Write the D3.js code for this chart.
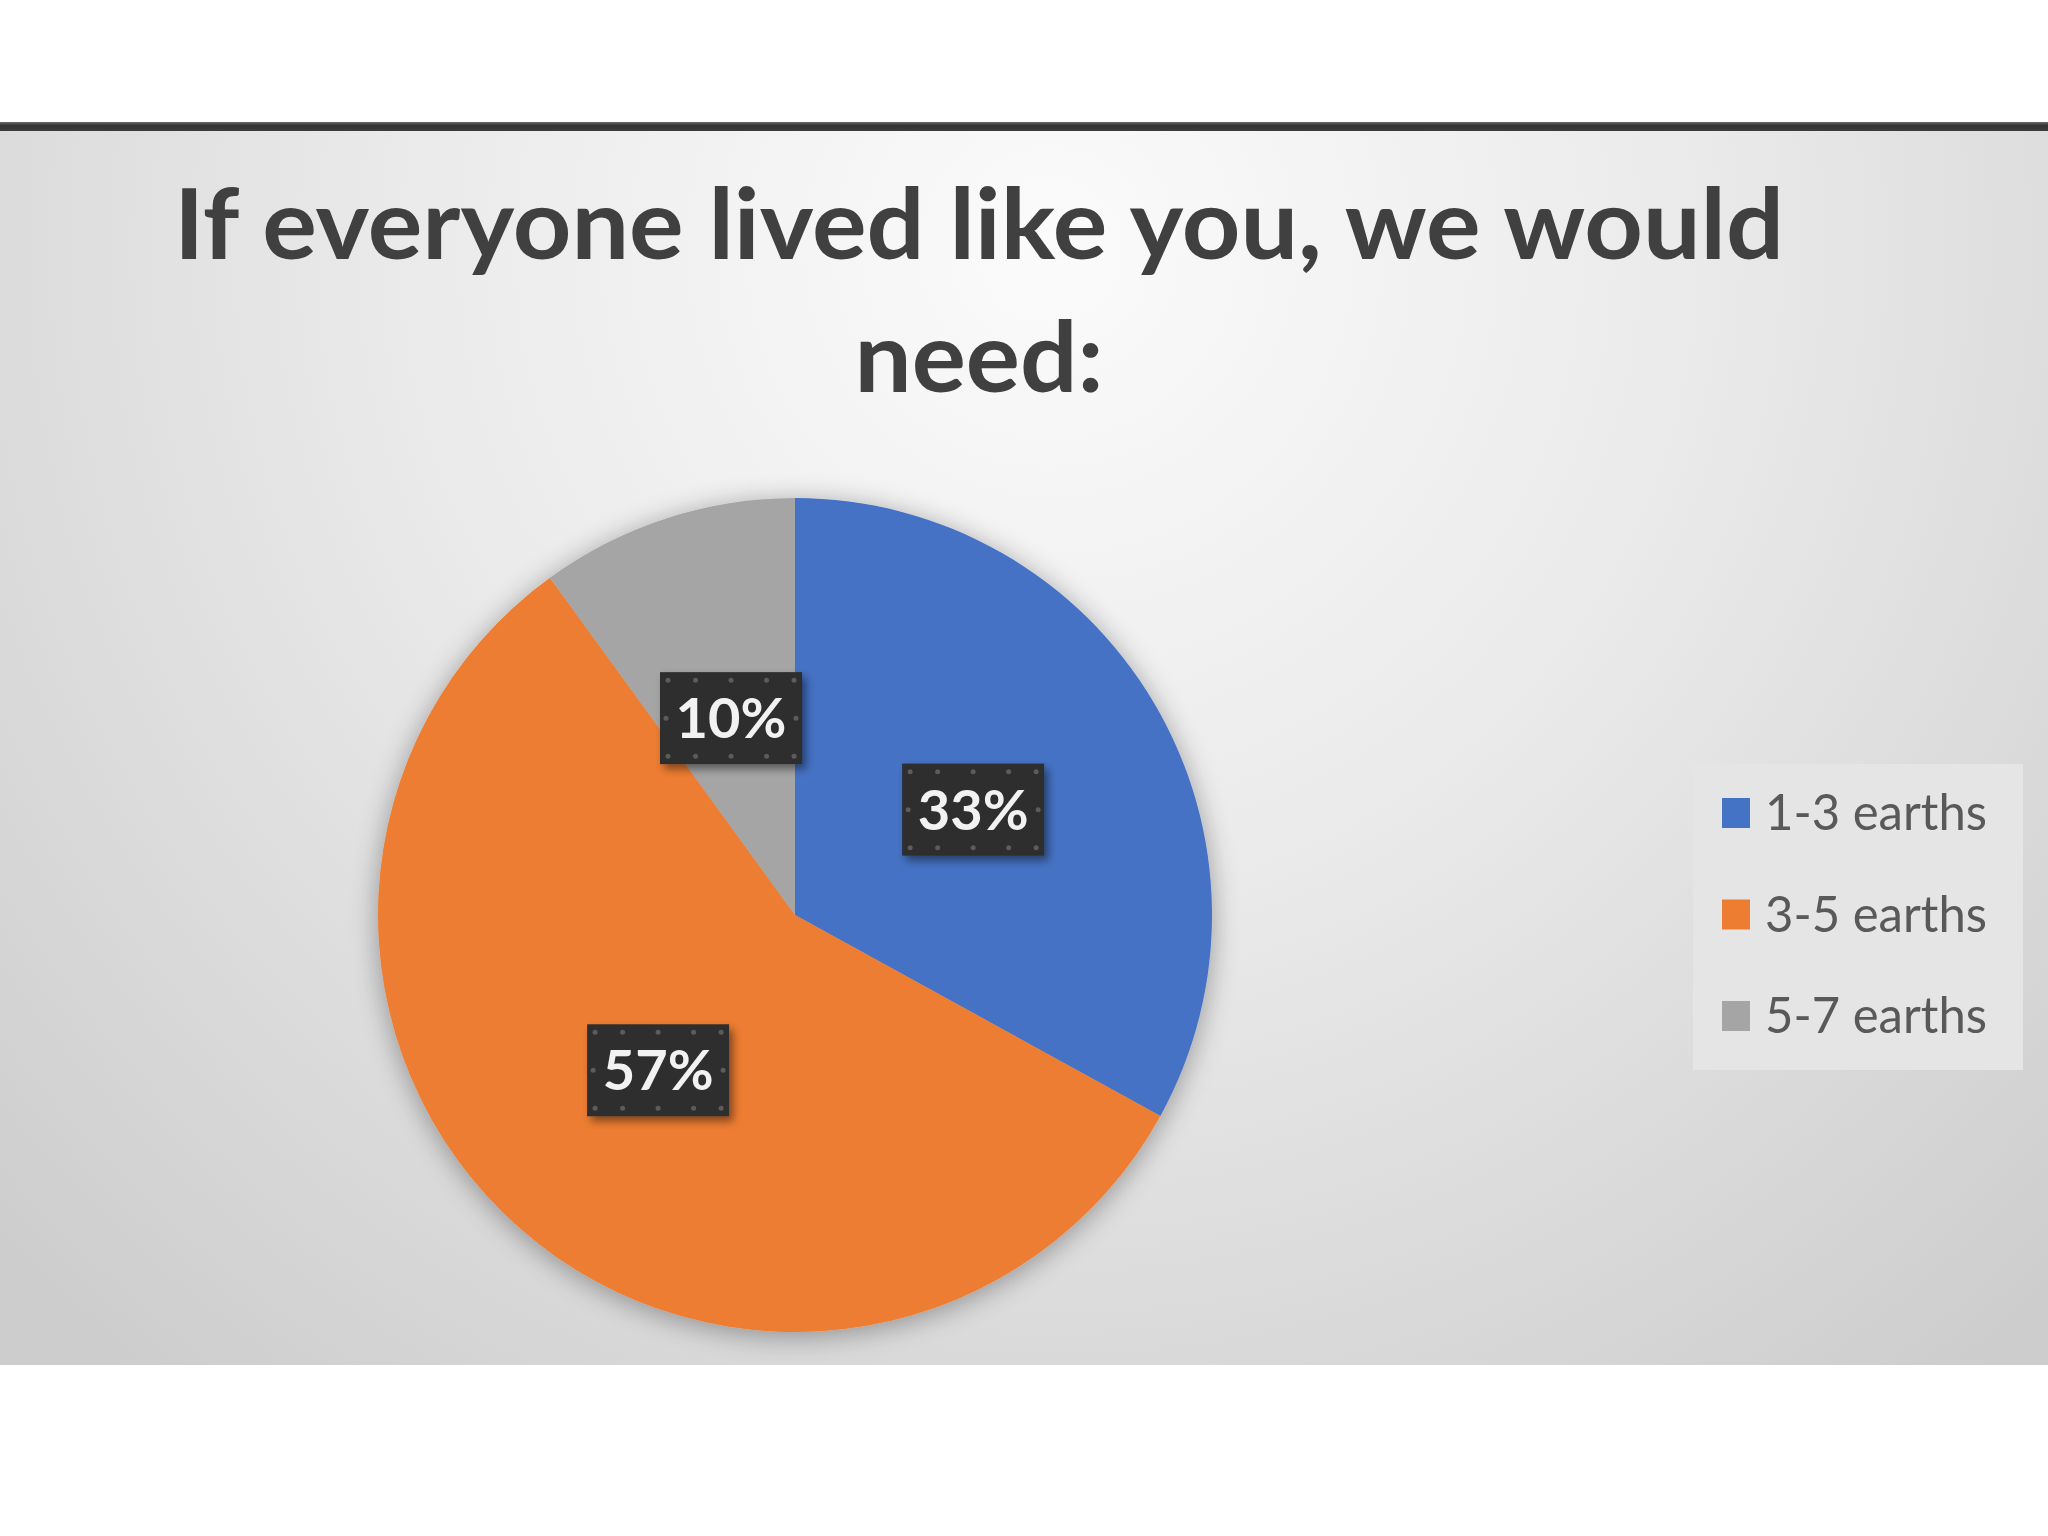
<!DOCTYPE html>
<html>
<head>
<meta charset="utf-8">
<script src="https://cdn.jsdelivr.net/npm/d3@7"></script>
<style>
  body { margin:0; background:#fff; }
  svg { display:block; }
</style>
</head>
<body>
<div id="chart"></div>
<script>
var w = 2048;
var h = 1536;

// data ======================================================
var categories = ["1-3 earths", "3-5 earths", "5-7 earths"];
var shares = [33, 57, 10];
var colors = ["#4472c4", "#ed7d31", "#a5a5a5"];
var titleLines = ["If everyone lived like you, we would", "need:"];
// ===========================================================

var svg = d3.select("#chart")
            .append("svg")
            .attr("width", w)
            .attr("height", h);

var defs = svg.append("defs");

// background gradient
var bg = defs.append("radialGradient")
    .attr("id", "bg")
    .attr("gradientUnits", "userSpaceOnUse")
    .attr("cx", 1050).attr("cy", 250).attr("r", 1450);
bg.append("stop").attr("offset", "0%").attr("stop-color", "#fbfbfb");
bg.append("stop").attr("offset", "45%").attr("stop-color", "#eaeaea");
bg.append("stop").attr("offset", "100%").attr("stop-color", "#cdcdcd");

var bar = defs.append("linearGradient")
    .attr("id", "bar").attr("x1", 0).attr("x2", 0).attr("y1", 0).attr("y2", 1);
bar.append("stop").attr("offset", "0%").attr("stop-color", "#6a6a6a");
bar.append("stop").attr("offset", "40%").attr("stop-color", "#333");
bar.append("stop").attr("offset", "100%").attr("stop-color", "#3d3d3d");

var shadow = defs.append("filter").attr("id", "shadow")
    .attr("x", "-20%").attr("y", "-20%").attr("width", "140%").attr("height", "140%");
shadow.append("feGaussianBlur").attr("in", "SourceAlpha").attr("stdDeviation", 14);
shadow.append("feOffset").attr("dx", 0).attr("dy", 4).attr("result", "b");
shadow.append("feComponentTransfer").append("feFuncA").attr("type", "linear").attr("slope", 0.35);
var merge = shadow.append("feMerge");
merge.append("feMergeNode");
merge.append("feMergeNode").attr("in", "SourceGraphic");

var lblShadow = defs.append("filter").attr("id", "lblShadow")
    .attr("x", "-30%").attr("y", "-30%").attr("width", "160%").attr("height", "160%");
lblShadow.append("feDropShadow").attr("dx", 4).attr("dy", 5)
    .attr("stdDeviation", 4).attr("flood-color", "#000").attr("flood-opacity", 0.45);

svg.append("rect").attr("x", 0).attr("y", 131).attr("width", w).attr("height", 1234)
   .attr("fill", "url(#bg)");
svg.append("rect").attr("x", 0).attr("y", 122).attr("width", w).attr("height", 9)
   .attr("fill", "url(#bar)");

// Title =====================================================
var titleWidths = [1610, 249];
svg.selectAll("text.title")
   .data(titleLines)
   .enter()
   .append("text")
   .attr("class", "title")
   .attr("x", 979)
   .attr("y", function(d, i) { return 259 + i * 133; })
   .attr("text-anchor", "middle")
   .attr("textLength", function(d, i) { return titleWidths[i]; })
   .attr("lengthAdjust", "spacingAndGlyphs")
   .style("font-family", "Lato, 'Open Sans', sans-serif")
   .style("font-weight", "bold")
   .style("font-size", "98px")
   .style("fill", "#404040")
   .text(function(d) { return d; });

// Pie =======================================================
var cx = 795, cy = 915, r = 417;
var pie = d3.pie().sort(null).value(function(d) { return d; });
var arcs = pie(shares);
var arc = d3.arc().innerRadius(0).outerRadius(r);
var labelArc = d3.arc().innerRadius(207).outerRadius(207);

var g = svg.append("g").attr("transform", "translate(" + cx + "," + cy + ")");

g.append("g").attr("filter", "url(#shadow)")
 .selectAll("path")
 .data(arcs)
 .enter()
 .append("path")
 .attr("d", arc)
 .attr("fill", function(d, i) { return colors[i]; });

var lbl = g.selectAll("g.lbl")
  .data(arcs)
  .enter()
  .append("g")
  .attr("class", "lbl")
  .attr("transform", function(d) { return "translate(" + labelArc.centroid(d) + ")"; });

var bw = 142, bh = 92;
lbl.append("rect")
   .attr("x", -bw / 2).attr("y", -bh / 2)
   .attr("width", bw).attr("height", bh)
   .attr("fill", "#2d2d2d")
   .attr("filter", "url(#lblShadow)");

// selection handle dots
var dotPos = [];
[-1, 0, 1].forEach(function(a) {
  dotPos.push([a * (bw / 2 - 8), -bh / 2 + 8]);
  dotPos.push([a * (bw / 2 - 8), bh / 2 - 8]);
});
[-1, 1].forEach(function(a) { dotPos.push([a * (bw / 2 - 6), 0]); });
dotPos.push([-bw / 4, -bh / 2 + 8], [bw / 4, -bh / 2 + 8], [-bw / 4, bh / 2 - 8], [bw / 4, bh / 2 - 8]);
lbl.selectAll("circle")
   .data(dotPos)
   .enter()
   .append("circle")
   .attr("cx", function(d) { return d[0]; })
   .attr("cy", function(d) { return d[1]; })
   .attr("r", 2.5)
   .attr("fill", "#5c5c5c");

lbl.append("text")
   .attr("text-anchor", "middle")
   .attr("y", 20)
   .style("font-family", "Lato, 'Open Sans', sans-serif")
   .style("font-weight", "bold")
   .style("font-size", "56px")
   .style("fill", "#f2f2f2")
   .text(function(d) { return d.data + "%"; });

// Legend ====================================================
var legend = svg.append("g").attr("transform", "translate(1693,764)");
legend.append("rect")
   .attr("width", 330).attr("height", 306)
   .attr("fill", "#e5e5e5");

var row = legend.selectAll("g.row")
  .data(categories)
  .enter()
  .append("g")
  .attr("class", "row")
  .attr("transform", function(d, i) { return "translate(0," + (66 + i * 101.5) + ")"; });

row.append("rect")
   .attr("x", 29).attr("y", -32)
   .attr("width", 28).attr("height", 30)
   .attr("fill", function(d, i) { return colors[i]; });

row.append("text")
   .attr("x", 72)
   .attr("textLength", 222)
   .attr("lengthAdjust", "spacingAndGlyphs")
   .style("font-family", "Lato, 'Open Sans', sans-serif")
   .style("font-size", "50px")
   .style("fill", "#595959")
   .text(function(d) { return d; });
</script>
</body>
</html>
